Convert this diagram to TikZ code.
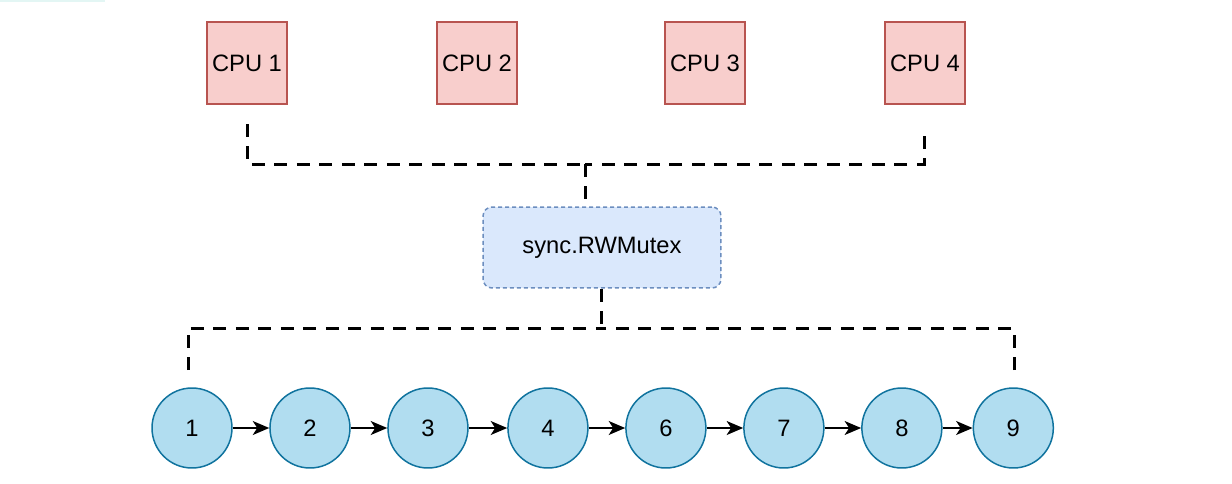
\documentclass[tikz,border=0pt]{standalone}
\usepackage{fontspec}
\setmainfont{Liberation Sans}
\usepackage{tikz}
\usetikzlibrary{arrows.meta,positioning}
\definecolor{CPUFill}{HTML}{F8CECC}
\definecolor{CPUEdge}{HTML}{B85450}
\definecolor{LockFill}{HTML}{DAE8FC}
\definecolor{LockEdge}{HTML}{6C8EBF}
\definecolor{ItemFill}{HTML}{B1DDF0}
\definecolor{ItemEdge}{HTML}{10739E}
\definecolor{EdgeTint}{HTML}{E3F6F4}

\begin{document}
\begin{tikzpicture}[x=0.02cm,y=-0.02cm,
  cpu/.style={draw=CPUEdge,fill=CPUFill,line width=0.03cm,minimum width=1.6cm,minimum height=1.64cm,inner sep=0pt,font=\fontsize{13.5}{16}\selectfont},
  lock/.style={draw=LockEdge,fill=LockFill,line width=0.03cm,dash pattern=on 0.08cm off 0.06cm,rounded corners=0.18cm,minimum width=4.76cm,minimum height=1.62cm,font=\fontsize{13.5}{16}\selectfont},
  item/.style={circle,draw=ItemEdge,fill=ItemFill,line width=0.03cm,minimum size=1.6cm,inner sep=0pt,font=\fontsize{13.5}{16}\selectfont},
  bus/.style={line width=0.06cm,dash pattern=on 0.26cm off 0.19cm},
  link/.style={line width=0.03cm,-{Stealth[length=0.33cm,width=0.28cm,inset=0.09cm]}},
  node distance=0.73cm,
]
\useasboundingbox (0,0) rectangle (1232,484);
\fill[EdgeTint] (0,0) rectangle (105,2);

% processors
\node[cpu] (cpu1) at (247,63) {CPU 1};
\node[cpu] (cpu2) at (477,63) {CPU 2};
\node[cpu] (cpu3) at (705,63) {CPU 3};
\node[cpu] (cpu4) at (925,63) {CPU 4};

% lock
\node[lock] (mutex) at (602,247.5) {sync.RWMutex};

% list
\node[item] (n1) at (192,428) {1};
\node[item,right=of n1] (n2) {2};
\node[item,right=of n2] (n3) {3};
\node[item,right=0.77cm of n3] (n4) {4};
\node[item,right=of n4] (n6) {6};
\node[item,right=of n6] (n7) {7};
\node[item,right=of n7] (n8) {8};
\node[item,right=0.6cm of n8] (n9) {9};

\draw[link] (n1) -- (n2);
\draw[link] (n2) -- (n3);
\draw[link] (n3) -- (n4);
\draw[link] (n4) -- (n6);
\draw[link] (n6) -- (n7);
\draw[link] (n7) -- (n8);
\draw[link] (n8) -- (n9);

% dashed buses
\coordinate (cpuL) at (247,124);
\coordinate (cpuR) at (924,136);
\coordinate (busT) at (585,164);
\coordinate (busB) at (601,328);
\coordinate (listL) at (188,370);
\coordinate (listR) at (1014,370);
\draw[bus] (cpuL) |- (busT);
\draw[bus] (cpuR) |- (busT);
\draw[bus] (busT) -- (mutex.north -| busT);
\draw[bus] (mutex.south -| busB) -- (busB);
\draw[bus] (listL) |- (busB);
\draw[bus] (listR) |- (busB);
\end{tikzpicture}
\end{document}
